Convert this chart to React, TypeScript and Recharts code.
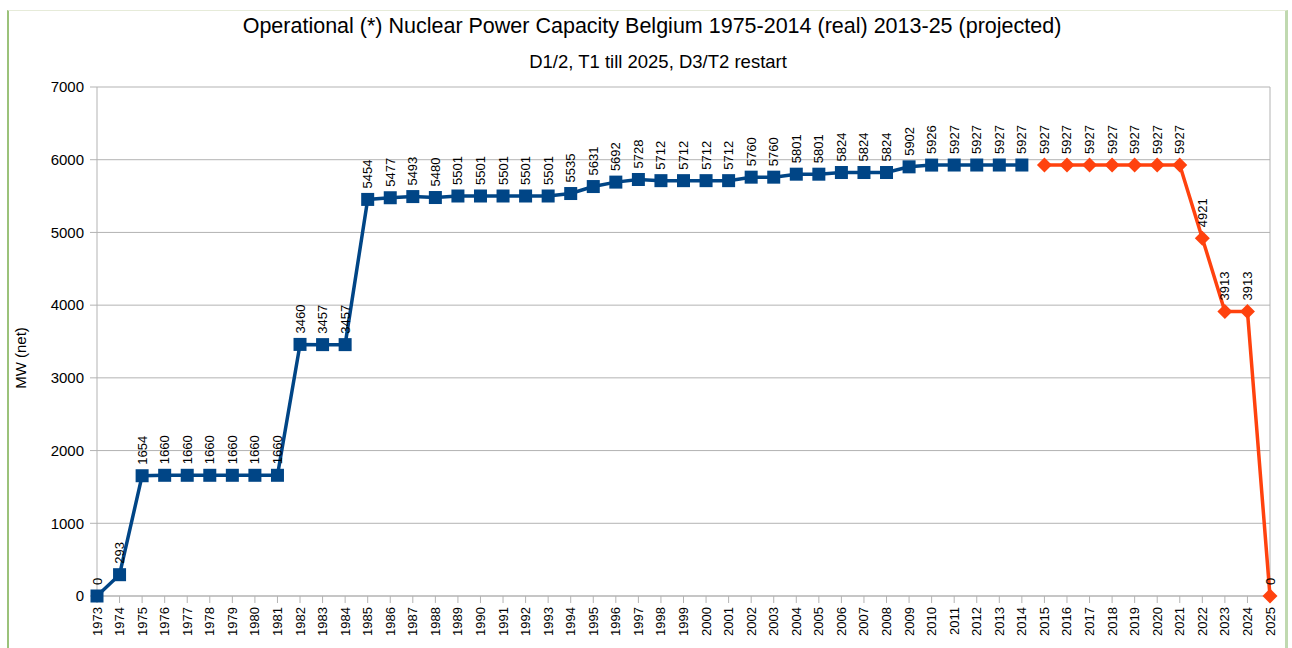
import React from 'react';
import { LineChart, Line, XAxis, YAxis, CartesianGrid, ReferenceLine, LabelList } from 'recharts';

const years: string[] = [
  '1973','1974','1975','1976','1977','1978','1979','1980','1981','1982','1983','1984','1985','1986','1987','1988','1989','1990',
  '1991','1992','1993','1994','1995','1996','1997','1998','1999','2000','2001','2002','2003','2004','2005','2006','2007','2008',
  '2009','2010','2011','2012','2013','2014','2015','2016','2017','2018','2019','2020','2021','2022','2023','2024','2025'
];

const realValues: (number | null)[] = [
  0, 293, 1654, 1660, 1660, 1660, 1660, 1660, 1660, 3460, 3457, 3457, 5454, 5477, 5493, 5480, 5501, 5501,
  5501, 5501, 5501, 5535, 5631, 5692, 5728, 5712, 5712, 5712, 5712, 5760, 5760, 5801, 5801, 5824, 5824, 5824,
  5902, 5926, 5927, 5927, 5927, 5927, null, null, null, null, null, null, null, null, null, null, null
];

const projectedValues: (number | null)[] = [
  null, null, null, null, null, null, null, null, null, null, null, null, null, null, null, null, null, null,
  null, null, null, null, null, null, null, null, null, null, null, null, null, null, null, null, null, null,
  null, null, null, null, null, null, 5927, 5927, 5927, 5927, 5927, 5927, 5927, 4921, 3913, 3913, 0
];

const yTicks: number[] = [0, 1000, 2000, 3000, 4000, 5000, 6000, 7000];

const data = years.map((y, i) => ({ year: y, real: realValues[i], proj: projectedValues[i] }));

const FONT = '"Liberation Sans", Arial, sans-serif';
const BLUE = '#004586';
const ORANGE = '#ff420e';

const ValueLabel = (props: any) => {
  const { x, y, value } = props;
  if (value === null || value === undefined) return null;
  const ty = y - 11;
  return (
    <text
      x={x}
      y={ty}
      transform={`rotate(-90 ${x} ${ty})`}
      textAnchor="start"
      dominantBaseline="central"
      fontSize={13}
      fontFamily={FONT}
      fill="#000"
    >
      {value}
    </text>
  );
};

const XTick = (props: any) => {
  const { x, y, payload } = props;
  return (
    <text
      x={x}
      y={y}
      transform={`rotate(-90 ${x} ${y})`}
      textAnchor="end"
      dominantBaseline="central"
      fontSize={13}
      fontFamily={FONT}
      fill="#000"
    >
      {payload.value}
    </text>
  );
};

const SquareDot = (props: any) => {
  const { cx, cy, value } = props;
  if (value === null || value === undefined || cx == null || cy == null) return null;
  return <rect x={cx - 6.5} y={cy - 6.5} width={13} height={13} fill={BLUE} />;
};

const DiamondDot = (props: any) => {
  const { cx, cy, value } = props;
  if (value === null || value === undefined || cx == null || cy == null) return null;
  const r = 7.5;
  return <path d={`M${cx},${cy - r}L${cx + r},${cy}L${cx},${cy + r}L${cx - r},${cy}Z`} fill={ORANGE} />;
};

export default function App() {
  return (
    <div style={{ position: 'absolute', left: 0, top: 0, width: 1292, height: 648, background: '#fff', fontFamily: FONT }}>
      <div style={{ position: 'absolute', left: 7, top: 10, width: 1281, height: 640, borderLeft: '2px solid #9bc27a', borderTop: '1px solid #e6ebd9', borderRight: '3px solid #c0d9b0', boxSizing: 'border-box' }} />
      <div style={{ position: 'absolute', left: 0, top: 14, width: 1304, textAlign: 'center', fontSize: 21.5, color: '#000' }}>
        Operational (*) Nuclear Power Capacity Belgium 1975-2014 (real) 2013-25 (projected)
      </div>
      <div style={{ position: 'absolute', left: 0, top: 51, width: 1316, textAlign: 'center', fontSize: 18.5, color: '#000' }}>
        D1/2, T1 till 2025, D3/T2 restart
      </div>
      <div style={{ position: 'absolute', left: 20, top: 358, width: 0, height: 0 }}>
        <div style={{ position: 'absolute', transform: 'translate(-50%, -50%) rotate(-90deg)', whiteSpace: 'nowrap', fontSize: 15, color: '#000' }}>
          MW (net)
        </div>
      </div>
      <div style={{ position: 'absolute', left: 0, top: 0 }}>
        <LineChart width={1292} height={648} data={data} margin={{ top: 87, right: 22, bottom: 0, left: 37 }}>
          <CartesianGrid vertical={false} stroke="#b3b3b3" strokeWidth={1} />
          <ReferenceLine x="2025" stroke="#b3b3b3" strokeWidth={1} />
          <XAxis
            dataKey="year"
            interval={0}
            height={52}
            tickSize={7}
            tickMargin={4}
            tick={<XTick />}
            axisLine={{ stroke: '#b3b3b3' }}
            tickLine={{ stroke: '#b3b3b3' }}
          />
          <YAxis
            width={60}
            domain={[0, 7000]}
            ticks={yTicks}
            tickSize={7}
            tickMargin={6}
            axisLine={{ stroke: '#b3b3b3' }}
            tickLine={{ stroke: '#b3b3b3' }}
            tick={{ fontSize: 15, fill: '#000', fontFamily: FONT }}
          />
          <Line
            dataKey="real"
            stroke={BLUE}
            strokeWidth={3.5}
            dot={<SquareDot />}
            activeDot={false}
            isAnimationActive={false}
            connectNulls={false}
          >
            <LabelList dataKey="real" content={<ValueLabel />} />
          </Line>
          <Line
            dataKey="proj"
            stroke={ORANGE}
            strokeWidth={3.5}
            dot={<DiamondDot />}
            activeDot={false}
            isAnimationActive={false}
            connectNulls={false}
          >
            <LabelList dataKey="proj" content={<ValueLabel />} />
          </Line>
        </LineChart>
      </div>
    </div>
  );
}
